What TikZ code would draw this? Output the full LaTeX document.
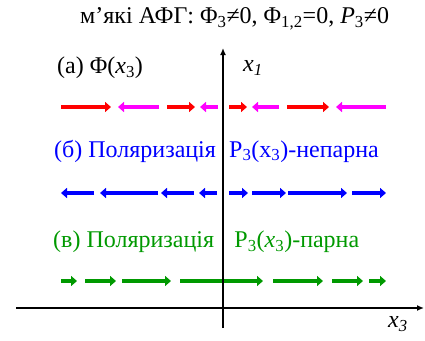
\documentclass[tikz,border=0pt]{standalone}
\usepackage{fontspec}
\setmainfont{Liberation Serif}
\usetikzlibrary{arrows.meta}
\definecolor{cred}{RGB}{255,0,0}
\definecolor{cmag}{RGB}{255,0,255}
\definecolor{cblue}{RGB}{0,0,255}
\definecolor{cgreen}{RGB}{0,153,0}
\newcommand{\sbs}[1]{\textsubscript{#1}}
\tikzset{
  axisline/.style={line width=1.8pt, black, -{Latex[length=7pt,width=6pt]}},
  vec/.style={line width=3.6pt, -{Triangle[length=6pt,width=10pt]}},
  lbl/.style={font=\fontsize{24}{26}\selectfont, inner sep=0pt},
}
\begin{document}
\begin{tikzpicture}[x=1pt,y=-1pt]
\useasboundingbox (0,0) rectangle (425,340);
% title and labels
\node[lbl, anchor=west] (title) at (80,19) {м’які АФГ: Φ\sbs{3}≠0, Φ\sbs{1,2}=0, \textit{P}\sbs{3}≠0};
\node[lbl, anchor=west] (la) at (57,68) {(а) Φ(\textit{x}\sbs{3})};
\node[lbl, anchor=west, text=cblue] (lb) at (54,151) {(б) Поляризація\hspace{0.55em}P\sbs{3}(x\sbs{3})-непарна};
\node[lbl, anchor=west, text=cgreen] (lc) at (53,242) {(в) Поляризація\hspace{0.85em}P\sbs{3}(\textit{x}\sbs{3})-парна};
\node[lbl, anchor=west] (xone) at (243,68) {\itshape x\sbs{1}};
\node[lbl, anchor=west] (xthree) at (388,324) {\itshape x\sbs{3}};
% row a
\foreach \a/\b/\c in {61/111/cred, 159/118/cmag, 167/195/cred, 218/200/cmag, 229/247/cred, 279/252/cmag, 287/329/cred, 386/336/cmag}
  \draw[vec, \c] (\a,107) -- (\b,107);
% row b
\foreach \a/\b in {94/61, 158/100, 194/161, 217/199, 229/248, 252/286, 288/347, 352/386}
  \draw[vec, cblue] (\a,193) -- (\b,193);
% row c
\foreach \a/\b in {61/77, 85/116, 122/171, 180/263, 273/323, 332/363, 369/386}
  \draw[vec, cgreen] (\a,281) -- (\b,281);
% axes
\coordinate (vb) at (223,328);
\coordinate (vt) at (223,48);
\coordinate (hl) at (16,308);
\coordinate (hr) at (424,308);
\draw[axisline] (vb) -- (vt);
\draw[axisline] (hl) -- (hr);
\end{tikzpicture}
\end{document}
